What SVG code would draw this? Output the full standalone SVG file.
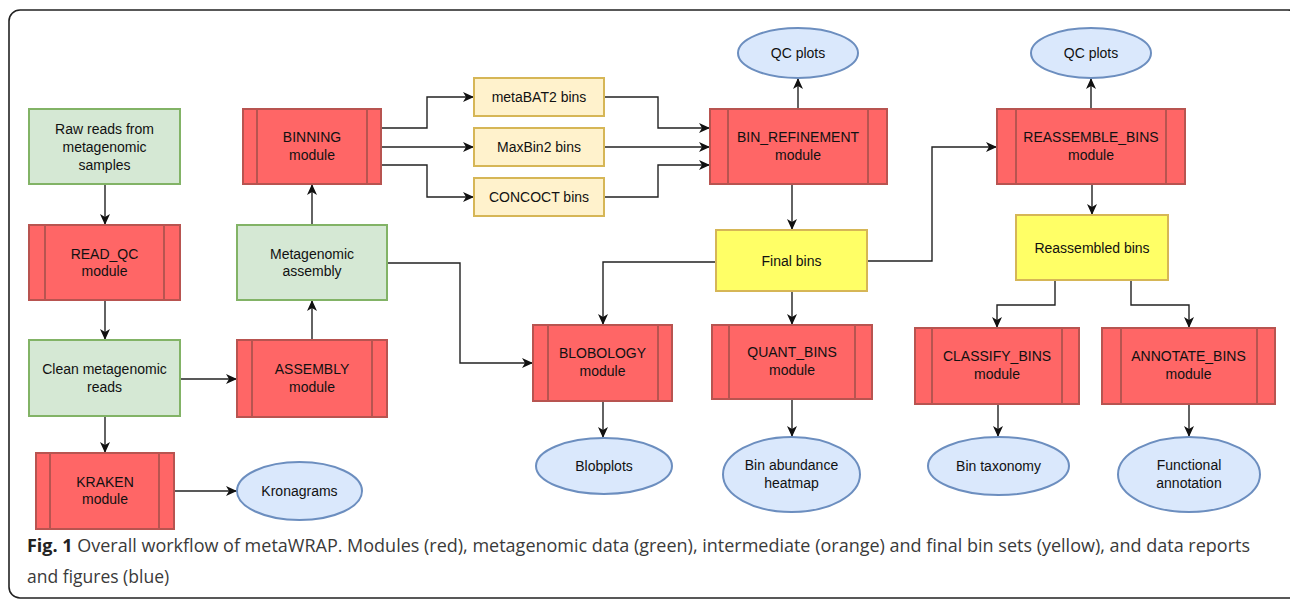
<svg xmlns="http://www.w3.org/2000/svg" width="1290" height="601" viewBox="0 0 1290 601">
<defs>
<marker id="arr" markerWidth="12" markerHeight="10" refX="11" refY="5" orient="auto" markerUnits="userSpaceOnUse">
<path d="M0,0 L11,5 L0,10 L3,5 z" fill="#111"/>
</marker>
<style>
.t{font-family:"Liberation Sans",Arial,sans-serif;font-size:14px;fill:#111;text-anchor:middle}
.mod{fill:#ff6666;stroke:#b85450;stroke-width:2}
.bar{stroke:#b85450;stroke-width:2}
.grn{fill:#d5e8d4;stroke:#82b366;stroke-width:2}
.org{fill:#fff2cc;stroke:#d6b656;stroke-width:2}
.yel{fill:#ffff66;stroke:#d6b656;stroke-width:2}
.blu{fill:#dae8fc;stroke:#6c8ebf;stroke-width:2}
.c{fill:none;stroke:#222;stroke-width:1.4;marker-end:url(#arr)}
.cap{font-family:"Open Sans","Liberation Sans",sans-serif;font-size:17.5px;fill:#3a3a3a}
</style>
</defs>
<rect x="0" y="0" width="1290" height="601" fill="#fff"/>
<rect x="9" y="10" width="1290" height="588" rx="11" fill="none" stroke="#222" stroke-width="1.6"/>

<g id="connectors">
<path class="c" d="M105,184 V225"/>
<path class="c" d="M105,300 V340"/>
<path class="c" d="M105,416 V453"/>
<path class="c" d="M174,491 H237"/>
<path class="c" d="M180,379 H237"/>
<path class="c" d="M312,340 V300"/>
<path class="c" d="M312,225 V184"/>
<path class="c" d="M387,263 H460 V363 H533"/>
<path class="c" d="M381,128 H427 V97 H474"/>
<path class="c" d="M381,147 H474"/>
<path class="c" d="M381,165 H427 V197 H474"/>
<path class="c" d="M604,97 H658 V128 H710"/>
<path class="c" d="M604,147 H710"/>
<path class="c" d="M604,197 H658 V165 H710"/>
<path class="c" d="M798,109 V78"/>
<path class="c" d="M792,184 V230"/>
<path class="c" d="M867,261 H932 V147 H997"/>
<path class="c" d="M716,262 H603 V325"/>
<path class="c" d="M792,291 V325"/>
<path class="c" d="M1091,109 V78"/>
<path class="c" d="M1092,184 V215"/>
<path class="c" d="M1055,280 V305 H997 V328"/>
<path class="c" d="M1131,280 V305 H1189 V328"/>
<path class="c" d="M603,401 V438"/>
<path class="c" d="M792,399 V437"/>
<path class="c" d="M998,404 V437"/>
<path class="c" d="M1189,404 V437"/>
</g>

<g id="raw_reads"><rect class="grn" x="29" y="109" width="151" height="75"/>
<text class="t" x="104.5" y="133.5">Raw reads from</text><text class="t" x="104.5" y="151.5">metagenomic</text><text class="t" x="104.5" y="169.5">samples</text></g>

<g id="read_qc"><rect class="mod" x="29" y="225" width="151" height="75"/>
<line class="bar" x1="45" y1="225" x2="45" y2="300"/><line class="bar" x1="164" y1="225" x2="164" y2="300"/>
<text class="t" x="104.5" y="258.5">READ_QC</text><text class="t" x="104.5" y="275.5">module</text></g>

<g id="clean_reads"><rect class="grn" x="29" y="340" width="151" height="76"/>
<text class="t" x="104.5" y="373.5">Clean metagenomic</text><text class="t" x="104.5" y="391.5">reads</text></g>

<g id="kraken"><rect class="mod" x="36" y="453" width="138" height="76"/>
<line class="bar" x1="50" y1="453" x2="50" y2="529"/><line class="bar" x1="159" y1="453" x2="159" y2="529"/>
<text class="t" x="105" y="486.5">KRAKEN</text><text class="t" x="105" y="504">module</text></g>

<g id="kronagrams"><ellipse class="blu" cx="299.5" cy="491" rx="62.5" ry="29"/>
<text class="t" x="299.5" y="496">Kronagrams</text></g>

<g id="binning"><rect class="mod" x="243" y="109" width="138" height="75"/>
<line class="bar" x1="257" y1="109" x2="257" y2="184"/><line class="bar" x1="367" y1="109" x2="367" y2="184"/>
<text class="t" x="312" y="142">BINNING</text><text class="t" x="312" y="159.5">module</text></g>

<g id="metagenomic_assembly"><rect class="grn" x="237" y="225" width="150" height="75"/>
<text class="t" x="312" y="258.5">Metagenomic</text><text class="t" x="312" y="276">assembly</text></g>

<g id="assembly"><rect class="mod" x="237" y="340" width="150" height="77"/>
<line class="bar" x1="252" y1="340" x2="252" y2="417"/><line class="bar" x1="372" y1="340" x2="372" y2="417"/>
<text class="t" x="312" y="373.5">ASSEMBLY</text><text class="t" x="312" y="391.5">module</text></g>

<g id="metabat2_bins"><rect class="org" x="474" y="78" width="130" height="38"/>
<text class="t" x="539" y="102">metaBAT2 bins</text></g>

<g id="maxbin2_bins"><rect class="org" x="474" y="128" width="130" height="38"/>
<text class="t" x="539" y="152">MaxBin2 bins</text></g>

<g id="concoct_bins"><rect class="org" x="474" y="178" width="130" height="38"/>
<text class="t" x="539" y="202">CONCOCT bins</text></g>

<g id="bin_refinement"><rect class="mod" x="710" y="109" width="177" height="75"/>
<line class="bar" x1="728" y1="109" x2="728" y2="184"/><line class="bar" x1="868" y1="109" x2="868" y2="184"/>
<text class="t" x="798" y="142">BIN_REFINEMENT</text><text class="t" x="798" y="159.5">module</text></g>

<g id="qc_plots_1"><ellipse class="blu" cx="798" cy="53" rx="60" ry="25"/>
<text class="t" x="798" y="58">QC plots</text></g>

<g id="final_bins"><rect class="yel" x="716" y="230" width="151" height="61"/>
<text class="t" x="791.5" y="265.5">Final bins</text></g>

<g id="reassemble_bins"><rect class="mod" x="997" y="109" width="188" height="75"/>
<line class="bar" x1="1016" y1="109" x2="1016" y2="184"/><line class="bar" x1="1166" y1="109" x2="1166" y2="184"/>
<text class="t" x="1091" y="142">REASSEMBLE_BINS</text><text class="t" x="1091" y="159.5">module</text></g>

<g id="qc_plots_2"><ellipse class="blu" cx="1091" cy="53" rx="60" ry="25"/>
<text class="t" x="1091" y="58">QC plots</text></g>

<g id="reassembled_bins"><rect class="yel" x="1016" y="215" width="152" height="65"/>
<text class="t" x="1092" y="253">Reassembled bins</text></g>

<g id="blobology"><rect class="mod" x="533" y="325" width="139" height="76"/>
<line class="bar" x1="548" y1="325" x2="548" y2="401"/><line class="bar" x1="658" y1="325" x2="658" y2="401"/>
<text class="t" x="602.5" y="358">BLOBOLOGY</text><text class="t" x="602.5" y="376">module</text></g>

<g id="quant_bins"><rect class="mod" x="712" y="325" width="160" height="74"/>
<line class="bar" x1="729" y1="325" x2="729" y2="399"/><line class="bar" x1="855" y1="325" x2="855" y2="399"/>
<text class="t" x="792" y="357">QUANT_BINS</text><text class="t" x="792" y="375">module</text></g>

<g id="classify_bins"><rect class="mod" x="915" y="328" width="164" height="76"/>
<line class="bar" x1="932" y1="328" x2="932" y2="404"/><line class="bar" x1="1062" y1="328" x2="1062" y2="404"/>
<text class="t" x="997" y="361">CLASSIFY_BINS</text><text class="t" x="997" y="379">module</text></g>

<g id="annotate_bins"><rect class="mod" x="1102" y="328" width="173" height="76"/>
<line class="bar" x1="1121" y1="328" x2="1121" y2="404"/><line class="bar" x1="1257" y1="328" x2="1257" y2="404"/>
<text class="t" x="1188.5" y="361">ANNOTATE_BINS</text><text class="t" x="1188.5" y="379">module</text></g>

<g id="blobplots"><ellipse class="blu" cx="604" cy="466" rx="68" ry="28"/>
<text class="t" x="604" y="471">Blobplots</text></g>

<g id="bin_abundance_heatmap"><ellipse class="blu" cx="791.5" cy="474.5" rx="68.5" ry="37.5"/>
<text class="t" x="791.5" y="470">Bin abundance</text><text class="t" x="791.5" y="488">heatmap</text></g>

<g id="bin_taxonomy"><ellipse class="blu" cx="998.5" cy="466" rx="70.5" ry="29"/>
<text class="t" x="998.5" y="471">Bin taxonomy</text></g>

<g id="functional_annotation"><ellipse class="blu" cx="1189" cy="474.5" rx="71" ry="37.5"/>
<text class="t" x="1189" y="470">Functional</text><text class="t" x="1189" y="488">annotation</text></g>

<g id="caption">
<text class="cap" x="27" y="552" textLength="1223" lengthAdjust="spacingAndGlyphs"><tspan font-weight="bold" fill="#222">Fig. 1</tspan> Overall workflow of metaWRAP. Modules (red), metagenomic data (green), intermediate (orange) and final bin sets (yellow), and data reports</text>
<text class="cap" x="27" y="583">and figures (blue)</text>
</g>
</svg>
